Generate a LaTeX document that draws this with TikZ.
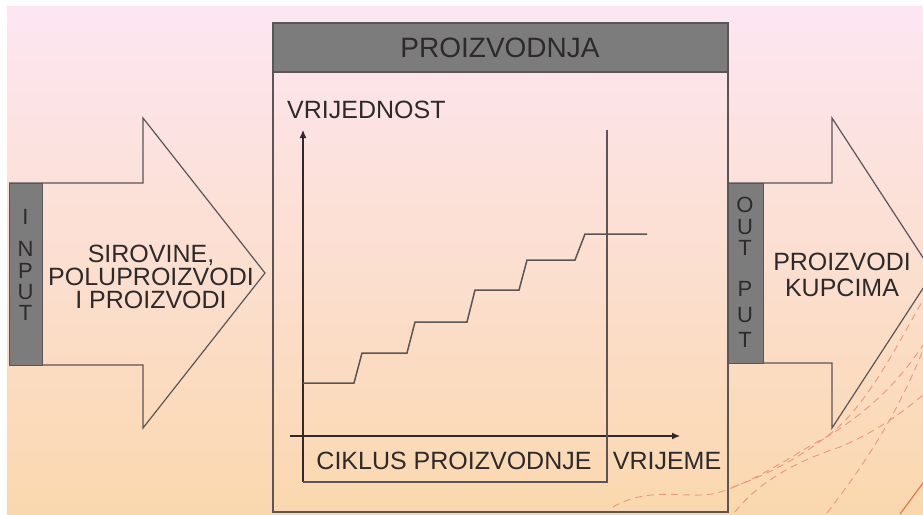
\documentclass[tikz,border=0pt]{standalone}
\usepackage{fontspec}
\setmainfont{Liberation Sans}
\usetikzlibrary{positioning,arrows.meta}
\definecolor{prodink}{HTML}{2E2A2C}
\definecolor{prodline}{HTML}{5A5658}
\definecolor{prodgray}{HTML}{7C7C7C}
\definecolor{bgtop}{HTML}{FDE6F2}
\definecolor{bgmid}{HTML}{FCE1DC}
\definecolor{bgbot}{HTML}{FAD8AE}
\definecolor{trailred}{HTML}{E9977F}
\definecolor{trailsolid}{HTML}{E4784A}
\tikzset{
  frame/.style  ={draw=prodline,line width=1.3pt},
  bar/.style    ={fill=prodgray,draw=prodline,line width=0.8pt},
  bigarrow/.style={draw=prodline,line width=1.2pt,line join=miter},
  lbl/.style    ={text=prodink,font=\fontsize{25}{23}\selectfont,align=center,inner sep=0pt},
  letter/.style ={text=prodink,font=\fontsize{22}{22}\selectfont,inner sep=0pt},
  axis/.style   ={draw=prodink,line width=1.1pt,-{Latex[length=8pt,width=7pt]}},
  stairs/.style ={draw=prodline,line width=1.5pt},
  trail/.style  ={draw=trailred,line width=0.9pt,dash pattern=on 7pt off 5pt},
}

\begin{document}
\begin{tikzpicture}[x=1pt,y=-1pt]
  \useasboundingbox (0,0) rectangle (923,514);
  \fill[white] (0,0) rectangle (923,514);
  \fill[top color=bgtop,middle color=bgmid,bottom color=bgbot] (7,6) rectangle (923,514);

  % decorative trails, bottom right
  \begin{scope}
    \clip (0,0) rectangle (923,514);
    \draw[trail] (613,507) .. controls (650,485) and (690,500) .. (717,493)
                 .. controls (760,480) and (800,450) .. (830,435)
                 .. controls (870,410) and (900,380) .. (923,345);
    \draw[trail] (735,512) .. controls (760,480) and (800,460) .. (840,447)
                 .. controls (880,430) and (905,410) .. (923,395);
    \draw[trail] (733,487) .. controls (780,470) and (810,450) .. (835,430)
                 .. controls (870,400) and (900,340) .. (923,300);
    \draw[trail] (827,513) .. controls (860,470) and (895,420) .. (923,350);
    \draw[trailsolid,line width=1.2pt] (900,514) -- (923,483);
  \end{scope}

  % input arrow
  \draw[bigarrow] (9,183) -- (143,183) -- (143,118) -- (265,273)
                  -- (143,428) -- (143,365) -- (9,365);
  \draw[bar] (9,183) rectangle (42,365);
  \foreach \ch/\yy [count=\i] in {I/217,N/249,P/271,U/292,T/313}
    \node[letter] (in\i) at (25.5,\yy) {\ch};
  \node[lbl] (raw) at (151,277) {SIROVINE,\\POLUPROIZVODI\\I PROIZVODI};

  % output arrow
  \begin{scope}
    \clip (0,0) rectangle (923,514);
    \draw[bigarrow] (727,183) -- (832,183) -- (832,118) -- (933,273)
                    -- (832,428) -- (832,363) -- (727,363);
  \end{scope}
  \draw[bar] (727,183) rectangle (763,363);
  \foreach \ch/\yy [count=\i] in {O/205,U/227,T/248,P/289,U/315,T/340}
    \node[letter] (out\i) at (745,\yy) {\ch};
  \node[lbl, font=\fontsize{25}{26}\selectfont] (goods) at (842,275) {PROIZVODI\\KUPCIMA};

  % production box
  \fill[prodgray] (273,23) rectangle (728,72);
  \draw[frame] (273,23) rectangle (728,512);
  \draw[frame] (273,72) -- (728,72);
  \node[text=prodink,font=\fontsize{28}{28}\selectfont,inner sep=0pt] (title) at (500,48) {PROIZVODNJA};

  % value over time
  \coordinate (ybot) at (303,482);
  \coordinate (ytop) at (303,130);
  \coordinate (xl) at (290,436);
  \coordinate (xr) at (680,436);
  \coordinate (cbot) at (607,482);
  \coordinate (ctop) at (607,130);
  \draw[axis] (ybot) -- (ytop);
  \draw[axis] (xl) -- (xr);
  \draw[frame,line width=1.1pt] (ybot) -- (cbot) -- (ctop);
  \node[lbl, anchor=west] (value) at (287,110) {VRIJEDNOST};
  \node[lbl] (cycle) at (454,461) {CIKLUS PROIZVODNJE};
  \node[lbl] (time) at (667,461) {VRIJEME};

  \draw[stairs] (303,383) -- (354,383) -- (362,353) -- (407,353) -- (415,322)
                -- (467,322) -- (475,290) -- (519,290) -- (527,260) -- (575,260)
                -- (585,234) -- (647,234);
\end{tikzpicture}
\end{document}
